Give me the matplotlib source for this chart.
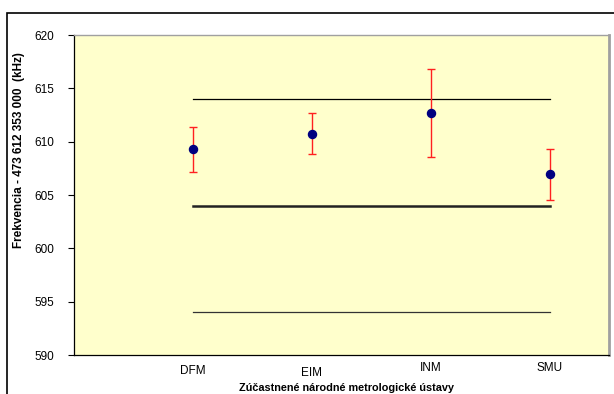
import numpy as np
import matplotlib
matplotlib.use("Agg")
import matplotlib.pyplot as plt
from matplotlib.patches import Rectangle

plt.rcParams['font.family'] = ['Liberation Sans', 'DejaVu Sans']

# data
labs = ['DFM', 'EIM', 'INM', 'SMU']
xpos = [1, 2, 3, 4]
freq = [609.3, 610.75, 612.7, 606.95]   # frekvencia - 473 612 353 000 (kHz)
err = [2.1, 1.95, 4.1, 2.4]
ref = 604          # referencna hodnota
tol = 10           # +- tolerancia

fig = plt.figure(figsize=(6.14, 3.94), dpi=100)
# vonkajsi ramcek grafu
fig.patches.append(Rectangle((7/614, -0.1), 1.0, 1 - 13/394 + 0.1, transform=fig.transFigure,
                             fill=False, edgecolor='black', linewidth=1.2))

ax = fig.add_axes([74/614, 1 - 355/394, (609 - 74)/614, (355 - 35)/394])
ax.set_facecolor('#FFFFCC')
ax.set_xlim(0, 4.5)
ax.set_ylim(590, 620)
ax.set_yticks(np.arange(590, 621, 5))
ax.tick_params(axis='y', direction='out', length=4, width=0.8, labelsize=8.5, pad=10.5)
ax.set_xticks([])

for s in ['left', 'bottom']:
    ax.spines[s].set_color('black')
    ax.spines[s].set_linewidth(0.9)
for s in ['top', 'right']:
    ax.spines[s].set_color('#A0A0A0')
ax.spines['top'].set_linewidth(1.0)
ax.spines['right'].set_linewidth(2.0)

# hranice
ax.plot(xpos, [ref + tol] * len(xpos), color='black', lw=0.9)
ax.plot(xpos, [ref] * len(xpos), color='#222222', lw=1.8)
ax.plot(xpos, [ref - tol] * len(xpos), color='#333333', lw=0.9)

ax.errorbar(xpos, freq, yerr=err, fmt='o', color='#000080', markersize=5.8,
            ecolor='#FF2020', elinewidth=1.0, capsize=3, capthick=1.0, zorder=3)

fig.text(19.5/614, 1 - 150/394, 'Frekvencia - 473 612 353 000  (kHz)', fontsize=8.5,
         fontweight='bold', rotation=90, ha='center', va='center')

# popisy ustavov (posunute ako v povodnom grafe)
yoff = [371, 372.5, 368, 368]
for x, lab, yy in zip(xpos, labs, yoff):
    ax.text(x, -(yy - 355) / 320, lab, transform=ax.get_xaxis_transform(), fontsize=8.5,
            ha='center', va='center')

fig.text(346/614, 1 - 388/394, 'Zúčastnené národné metrologické ústavy', fontsize=7.8,
         fontweight='bold', ha='center', va='center')

fig.savefig('out.png', dpi=100)
